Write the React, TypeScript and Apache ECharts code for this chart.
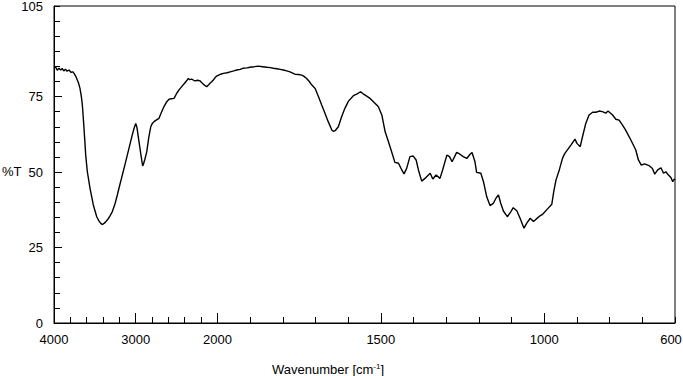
import { useEffect, useRef } from "react";
import * as echarts from "echarts";

// IR spectrum
const wavenumber = [
  4000, 3980, 3960, 3940, 3918, 3900, 3880, 3860, 3840, 3816, 3790, 3770, 3755, 3735, 3715, 3700,
  3682, 3665, 3653, 3643, 3633, 3622, 3612, 3592, 3559, 3519, 3477, 3450, 3428, 3410, 3388, 3370,
  3348, 3320, 3286, 3255, 3225, 3195, 3164, 3133, 3103, 3072, 3042, 3020, 3000, 2985, 2960, 2935,
  2915, 2907, 2890, 2865, 2840, 2816, 2795, 2776, 2745, 2715, 2690, 2654, 2620, 2592, 2560, 2531,
  2498, 2470, 2437, 2397, 2375, 2356, 2340, 2315, 2290, 2274, 2240, 2213, 2190, 2172, 2150, 2131,
  2110, 2091, 2070, 2050, 2030, 2009, 1990, 1982, 1970, 1961, 1950, 1941, 1930, 1921, 1910, 1900,
  1887, 1875, 1862, 1849, 1838, 1829, 1818, 1808, 1798, 1788, 1778, 1763, 1752, 1742, 1735, 1727,
  1719, 1711, 1701, 1691, 1681, 1671, 1661, 1650, 1645, 1640, 1630, 1620, 1610, 1599, 1584, 1574,
  1562, 1555, 1548, 1533, 1518, 1508, 1497, 1487, 1477, 1467, 1457, 1446, 1436, 1429, 1421, 1411,
  1401, 1392, 1385, 1375, 1365, 1349, 1341, 1331, 1319, 1311, 1298, 1290, 1282, 1268, 1258, 1248,
  1237, 1227, 1221, 1212, 1207, 1194, 1186, 1176, 1166, 1156, 1147, 1140, 1133, 1125, 1113, 1102,
  1095, 1084, 1074, 1062, 1054, 1043, 1033, 1025, 1013, 1005, 990, 977, 971, 964, 954, 944,
  937, 928, 918, 906, 900, 890, 883, 873, 863, 852, 842, 832, 822, 812, 805, 791,
  781, 771, 761, 751, 735, 720, 712, 703, 693, 679, 669, 662, 653, 643, 635, 628,
  620, 612, 607, 602, 600,
];
const transmittance = [
  84.4, 84.8, 83.7, 84.4, 83.8, 84.3, 83.5, 84.1, 83.4, 83.8, 83.0, 83.2, 82.7, 81.8, 80.5, 79.5,
  77.7, 75.0, 72.2, 68.5, 64.5, 60.0, 55.6, 50.1, 44.6, 39.1, 35.2, 33.8, 33.0, 32.6, 33.0, 33.4,
  34.1, 35.2, 36.9, 39.3, 42.4, 45.7, 49.0, 52.3, 55.6, 59.0, 62.3, 64.5, 66.1, 64.8, 60.1, 55.5,
  52.0, 52.5, 54.0, 56.7, 61.5, 65.0, 66.2, 66.7, 67.3, 67.8, 69.5, 71.7, 73.3, 74.1, 74.3, 74.4,
  76.1, 77.2, 78.3, 79.6, 80.3, 81.0, 80.6, 80.8, 80.4, 80.2, 80.4, 80.2, 79.6, 79.1, 78.6, 78.3,
  78.8, 79.4, 79.9, 80.5, 81.2, 81.8, 82.4, 82.7, 82.9, 83.2, 83.5, 83.8, 84.0, 84.4, 84.5, 84.7,
  84.9, 85.1, 84.9, 84.7, 84.6, 84.4, 84.2, 84.0, 83.8, 83.5, 83.2, 82.4, 82.3, 82.1, 81.7, 81.0,
  80.0, 78.8, 77.7, 75.0, 72.2, 69.5, 66.7, 63.9, 63.5, 63.7, 65.0, 68.3, 71.1, 73.5, 75.3, 75.8,
  76.6, 76.0, 75.5, 74.4, 72.8, 71.7, 68.9, 63.4, 60.1, 56.7, 53.2, 52.9, 50.7, 49.4, 51.2, 55.1,
  55.3, 54.0, 50.7, 47.0, 47.9, 49.6, 47.7, 49.0, 47.9, 50.7, 55.6, 55.1, 53.4, 56.5, 55.9, 55.1,
  54.5, 55.9, 56.5, 53.4, 49.9, 49.6, 46.8, 41.8, 38.9, 39.6, 41.5, 42.4, 39.6, 37.1, 35.2, 36.9,
  38.2, 37.2, 34.7, 31.4, 33.0, 34.7, 33.6, 34.4, 35.5, 36.0, 37.8, 39.3, 43.5, 47.4, 50.7, 54.6,
  56.2, 57.5, 59.0, 60.9, 59.5, 58.4, 61.7, 66.1, 68.9, 69.8, 69.8, 70.2, 70.0, 69.5, 70.2, 68.9,
  67.5, 67.2, 65.6, 63.9, 60.6, 57.3, 54.0, 52.3, 52.7, 52.1, 51.2, 49.3, 50.7, 51.4, 49.6, 50.1,
  49.0, 48.1, 46.8, 47.7, 47.4,
];

const xTickLabels = [4000, 3000, 2000, 1500, 1000, 600];
const xMajorTicks = [3000, 2000, 1500, 1000];
const yTickLabels = [0, 25, 50, 75, 105];
const yMajorTicks = [25, 50, 75];

// Axis is compressed 4x above 2000 cm-1
const toU = (w: number) => (w >= 2000 ? (4000 - w) / 4 : 500 + (2000 - w));
const fromU = (u: number) => (u <= 500 ? 4000 - u * 4 : 2000 - (u - 500));

const xMinor: number[] = [];
for (let w = 4000; w > 2000; w -= 200) xMinor.push(toU(w));
for (let w = 2000; w >= 600; w -= 100) xMinor.push(toU(w));
const yMinor: number[] = [];
for (let v = 0; v <= 105; v += 5) yMinor.push(v);

const FONT = "Liberation Sans, Arial, sans-serif";

export default function App() {
  const ref = useRef<HTMLDivElement>(null);
  useEffect(() => {
    if (!ref.current) return;
    const chart = echarts.init(ref.current, null, { renderer: "svg" });
    const labelStyle = { color: "#000", fontFamily: FONT, fontSize: 13 };
    const lastLabel = xTickLabels[xTickLabels.length - 1];
    chart.setOption({
      animation: false,
      grid: {
        left: 54,
        right: 8,
        top: 6,
        bottom: 53,
        show: true,
        borderColor: "#000",
        borderWidth: 1,
        backgroundColor: "transparent",
        containLabel: false,
        outerBoundsMode: "none",
      },
      xAxis: [
        {
          type: "value",
          min: 0,
          max: 1900,
          position: "bottom",
          axisLine: { show: true, lineStyle: { color: "#000", width: 1 } },
          axisTick: { show: true, inside: true, length: 6, customValues: xMinor, lineStyle: { color: "#000" } },
          axisLabel: {
            ...labelStyle,
            margin: 10,
            customValues: xTickLabels.map(toU),
            formatter: (v: number) => {
              const w = Math.round(fromU(v));
              return w === lastLabel ? `{last|${w}}` : String(w);
            },
            rich: {
              last: { fontFamily: FONT, fontSize: 13, color: "#000", padding: [0, 8, 0, 0] },
            },
          },
          splitLine: { show: false },
        },
        {
          type: "value",
          min: 0,
          max: 1900,
          position: "bottom",
          axisLine: { show: false },
          axisTick: { show: true, inside: true, length: 10, customValues: xMajorTicks.map(toU), lineStyle: { color: "#000" } },
          axisLabel: { show: false },
          splitLine: { show: false },
        },
      ],
      yAxis: [
        {
          type: "value",
          min: 0,
          max: 105,
          position: "left",
          axisLine: { show: true, lineStyle: { color: "#000", width: 1 } },
          axisTick: { show: true, inside: true, length: 6, customValues: yMinor, lineStyle: { color: "#000" } },
          axisLabel: { ...labelStyle, margin: 11, customValues: yTickLabels },
          splitLine: { show: false },
        },
        {
          type: "value",
          min: 0,
          max: 105,
          position: "left",
          axisLine: { show: false },
          axisTick: { show: true, inside: true, length: 8, customValues: yMajorTicks, lineStyle: { color: "#000" } },
          axisLabel: { show: false },
          splitLine: { show: false },
        },
      ],
      graphic: [
        {
          type: "text",
          left: 2,
          top: 165,
          style: { text: "%T", fill: "#000", font: `13px ${FONT}` },
        },
        {
          type: "text",
          x: 328,
          y: 369,
          style: {
            text: "Wavenumber [cm{sup|-1}]",
            fill: "#000",
            font: `13px ${FONT}`,
            align: "center",
            verticalAlign: "middle",
            rich: {
              sup: { fontSize: 8, fontFamily: FONT, fill: "#000", verticalAlign: "top", padding: [0, 0, 6, 0] },
            },
          },
        },
      ],
      series: [
        {
          type: "line",
          xAxisIndex: 0,
          yAxisIndex: 0,
          data: wavenumber.map((w, i) => [toU(w), transmittance[i]]),
          showSymbol: false,
          symbol: "none",
          lineStyle: { color: "#000", width: 1.4 },
          silent: true,
        },
      ],
    });
    return () => chart.dispose();
  }, []);
  return <div ref={ref} style={{ position: "absolute", left: 0, top: 0, width: 683, height: 376 }} />;
}
